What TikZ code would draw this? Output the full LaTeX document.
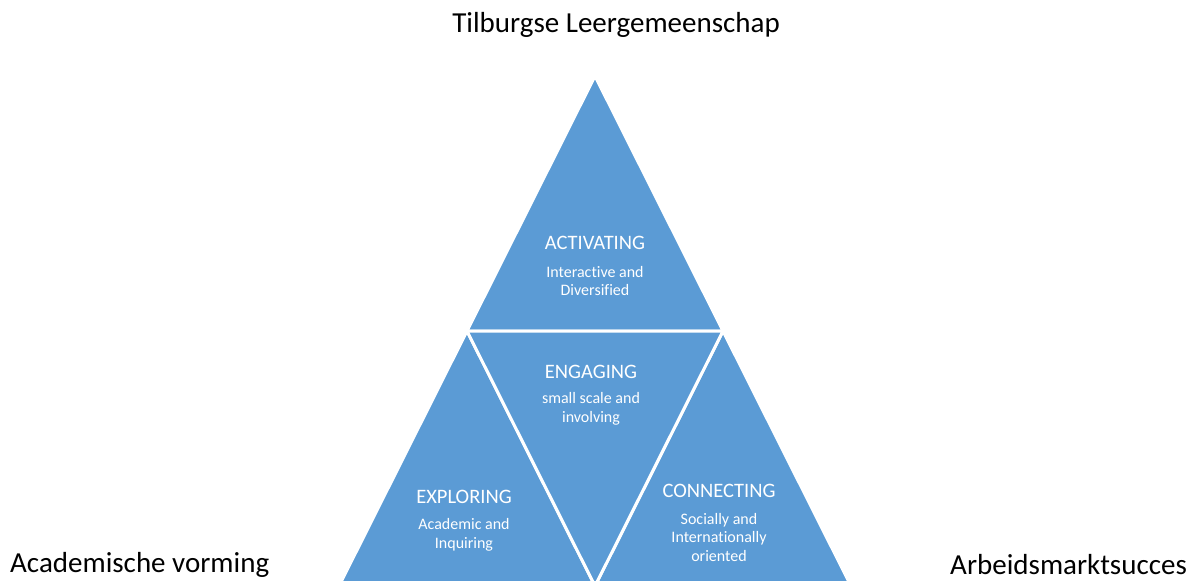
\documentclass[tikz,border=0pt]{standalone}
\usepackage{fontspec}
\setmainfont{Carlito}[Ligatures=NoCommon]
\usepackage{xcolor}
\usepackage{tikz}
\definecolor{tribl}{RGB}{91,155,213}

\begin{document}
\begin{tikzpicture}[x=1pt,y=-1pt,
      tri/.style={fill=tribl,draw=white,line width=3pt,line join=miter},
      head/.style={text=white,font=\fontsize{20.5}{24}\selectfont},
      sub/.style={text=white,font=\fontsize{16}{18.5}\selectfont,align=center},
      side/.style={font=\fontsize{29}{34}\selectfont}]
      \tikzstyle{every node}=[inner sep=0pt]
      \useasboundingbox (0,0) rectangle (1195,581);
      \clip (0,0) rectangle (1195,581);
      % corners of the big triangle
      \coordinate (Top) at (595,76);
      \coordinate (MidL) at (467,331);
      \coordinate (MidR) at (723,331);
      \coordinate (BotL) at (339,586);
      \coordinate (BotM) at (595,586);
      \coordinate (BotR) at (851,586);
      \draw[tri] (Top) -- (MidL) -- (MidR) -- cycle;
      \draw[tri] (MidL) -- (BotL) -- (BotM) -- cycle;
      \draw[tri] (MidR) -- (BotM) -- (BotR) -- cycle;
      \draw[tri] (MidL) -- (MidR) -- (BotM) -- cycle;
      % labels
      \node[side] (Gem) at (616,25) {Tilburgse Leergemeenschap};
      \node[side,anchor=west] (Aca) at (10,565) {Academische vorming};
      \node[side,anchor=east] (Arb) at (1187,565) {Arbeidsmarktsucces};
      \node[head] (Act) at (595,243) {ACTIVATING};
      \node[sub] (ActSub) at (595,281) {Interactive and\\Diversified};
      \node[head] (Eng) at (591,372) {ENGAGING};
      \node[sub] (EngSub) at (591,409) {small scale and\\involving};
      \node[head] (Exp) at (464,497) {EXPLORING};
      \node[sub] (ExpSub) at (464,535) {Academic and\\Inquiring};
      \node[head] (Con) at (719,491) {CONNECTING};
      \node[sub] (ConSub) at (719,537) {Socially and\\Internationally\\oriented};
\end{tikzpicture}
\end{document}
